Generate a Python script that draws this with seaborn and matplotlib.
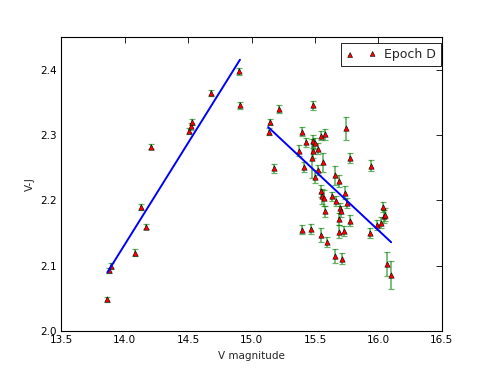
import matplotlib
matplotlib.use("Agg")
import matplotlib.pyplot as plt
import seaborn as sns
import numpy as np
import pandas as pd
from matplotlib.ticker import MultipleLocator

# V magnitude, V-J colour, and V-J error (Epoch D)
v_mag = [13.86, 13.875, 13.89, 14.08, 14.13, 14.165, 14.21, 14.51, 14.525, 14.53,
         14.68, 14.90, 14.91,
         15.134, 15.142, 15.173, 15.213, 15.375, 15.40, 15.41, 15.425, 15.486, 15.483,
         15.50, 15.483, 15.52, 15.473, 15.549, 15.58, 15.745, 15.777, 15.565, 15.52,
         15.50, 15.655, 15.69, 15.94, 15.546, 15.557, 15.567, 15.635, 15.667, 15.737,
         15.748, 15.58, 15.695, 15.706, 15.687, 15.777, 15.40, 15.465, 15.543, 15.598,
         15.654, 15.71, 15.69, 15.727, 15.937, 15.99, 16.018, 16.037, 16.045, 16.05,
         16.07, 16.10]
v_j = [2.049, 2.093, 2.100, 2.120, 2.190, 2.160, 2.282, 2.306, 2.313, 2.320,
       2.364, 2.397, 2.345,
       2.305, 2.320, 2.249, 2.340, 2.276, 2.305, 2.251, 2.289, 2.345, 2.290,
       2.287, 2.276, 2.279, 2.264, 2.299, 2.301, 2.310, 2.265, 2.258, 2.246,
       2.236, 2.238, 2.230, 2.253, 2.214, 2.206, 2.204, 2.206, 2.199, 2.212,
       2.196, 2.183, 2.188, 2.183, 2.171, 2.169, 2.155, 2.156, 2.147, 2.136,
       2.115, 2.111, 2.152, 2.153, 2.150, 2.162, 2.166, 2.190, 2.176, 2.178,
       2.103, 2.086]
v_j_err = [0.004, 0.004, 0.005, 0.005, 0.005, 0.004, 0.004, 0.004, 0.005, 0.005,
           0.004, 0.005, 0.005,
           0.005, 0.005, 0.007, 0.006, 0.008, 0.007, 0.007, 0.007, 0.007, 0.010,
           0.008, 0.012, 0.008, 0.030, 0.007, 0.008, 0.018, 0.008, 0.015, 0.008,
           0.010, 0.015, 0.009, 0.008, 0.009, 0.012, 0.012, 0.007, 0.008, 0.010,
           0.008, 0.008, 0.008, 0.008, 0.009, 0.008, 0.007, 0.008, 0.010, 0.008,
           0.010, 0.008, 0.010, 0.008, 0.008, 0.008, 0.008, 0.008, 0.010, 0.010,
           0.018, 0.022]

# linear fit segments
fit1_x = [13.863, 14.908]
fit1_y = [2.090, 2.415]
fit2_x = [15.13, 16.10]
fit2_y = [2.312, 2.136]

df = pd.DataFrame({"V": v_mag, "VJ": v_j, "err": v_j_err})

sns.set_style("white")
plt.rcParams["font.family"] = ["DejaVu Sans"]
plt.rcParams["font.size"] = 7.5

fig, ax = plt.subplots(figsize=(4.91, 3.68), dpi=100)
fig.subplots_adjust(left=0.125, right=0.9, bottom=0.1, top=0.9)

ax.errorbar(df["V"], df["VJ"], yerr=df["err"], fmt="none", ecolor="green",
            elinewidth=1.2, capsize=2.3, capthick=0.9, alpha=0.6, zorder=2)
sns.scatterplot(data=df, x="V", y="VJ", marker="^", color="red", s=15,
                edgecolor="black", linewidth=0.4, ax=ax, label="Epoch D", zorder=3)
sns.lineplot(x=fit1_x, y=fit1_y, color="blue", linewidth=1.4, ax=ax, zorder=4)
sns.lineplot(x=fit2_x, y=fit2_y, color="blue", linewidth=1.4, ax=ax, zorder=4)

ax.set_xlim(13.5, 16.5)
ax.set_ylim(2.0, 2.45)
ax.xaxis.set_major_locator(MultipleLocator(0.5))
ax.yaxis.set_major_locator(MultipleLocator(0.1))
ax.set_xlabel("V magnitude", fontsize=7.5)
ax.set_ylabel("V-J", fontsize=7.5)
ax.tick_params(direction="in", length=4, width=0.6, top=True, right=True,
               labelsize=7.5, colors="black", pad=3)
for sp in ax.spines.values():
    sp.set_color("black")
    sp.set_linewidth(0.8)

leg = ax.legend(loc="upper right", bbox_to_anchor=(0.997, 0.978), borderaxespad=0,
                scatterpoints=2, fontsize=9, fancybox=False, framealpha=1,
                handletextpad=0.6, handlelength=2.4, markerscale=0.9)
leg.get_frame().set_edgecolor("black")
leg.get_frame().set_linewidth(0.6)

fig.savefig("out.png", dpi=100)
